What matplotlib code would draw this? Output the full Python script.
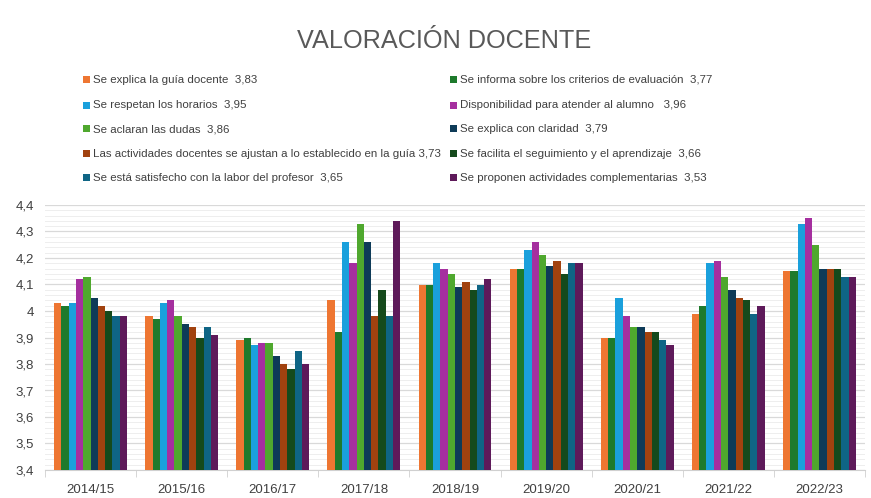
import matplotlib
matplotlib.use("Agg")
import matplotlib.pyplot as plt
import numpy as np
from matplotlib.patches import Rectangle
from matplotlib.ticker import MultipleLocator, FuncFormatter

categories = ["2014/15", "2015/16", "2016/17", "2017/18", "2018/19",
              "2019/20", "2020/21", "2021/22", "2022/23"]

series_labels = [
    "Se explica la guía docente  3,83",
    "Se informa sobre los criterios de evaluación  3,77",
    "Se respetan los horarios  3,95",
    "Disponibilidad para atender al alumno   3,96",
    "Se aclaran las dudas  3,86",
    "Se explica con claridad  3,79",
    "Las actividades docentes se ajustan a lo establecido en la guía 3,73",
    "Se facilita el seguimiento y el aprendizaje  3,66",
    "Se está satisfecho con la labor del profesor  3,65",
    "Se proponen actividades complementarias  3,53",
]

guia = [4.03, 3.98, 3.89, 4.04, 4.10, 4.16, 3.90, 3.99, 4.15]
criterios = [4.02, 3.97, 3.90, 3.92, 4.10, 4.16, 3.90, 4.02, 4.15]
horarios = [4.03, 4.03, 3.87, 4.26, 4.18, 4.23, 4.05, 4.18, 4.33]
disponibilidad = [4.12, 4.04, 3.88, 4.18, 4.16, 4.26, 3.98, 4.19, 4.35]
dudas = [4.13, 3.98, 3.88, 4.33, 4.14, 4.21, 3.94, 4.13, 4.25]
claridad = [4.05, 3.95, 3.83, 4.26, 4.09, 4.17, 3.94, 4.08, 4.16]
actividades = [4.02, 3.94, 3.80, 3.98, 4.11, 4.19, 3.92, 4.05, 4.16]
seguimiento = [4.00, 3.90, 3.78, 4.08, 4.08, 4.14, 3.92, 4.04, 4.16]
satisfecho = [3.98, 3.94, 3.85, 3.98, 4.10, 4.18, 3.89, 3.99, 4.13]
complementarias = [3.98, 3.91, 3.80, 4.34, 4.12, 4.18, 3.87, 4.02, 4.13]

series_values = [guia, criterios, horarios, disponibilidad, dudas,
                 claridad, actividades, seguimiento, satisfecho, complementarias]

colors = ["#EE7632", "#1E7A2C", "#1AA0DC", "#A52F9F", "#4FA82E",
          "#0E3B58", "#A1420F", "#154A1C", "#0F6585", "#5E1A5A"]

W, H = 871, 498
fig = plt.figure(figsize=(W / 100, H / 100), dpi=100)
fig.patch.set_facecolor("white")

ax = fig.add_axes([45 / W, 1 - 470 / H, (865 - 45) / W, (470 - 205) / H])

n = len(series_values)
x = np.arange(len(categories))
group_w = 0.80
bw = group_w / n
for i, (vals, c) in enumerate(zip(series_values, colors)):
    ax.bar(x - group_w / 2 + bw * (i + 0.5), vals, width=bw, color=c,
           bottom=0, zorder=3, linewidth=0)

ax.set_ylim(3.4, 4.4)
ax.set_xlim(-0.5, len(categories) - 0.5)
ax.yaxis.set_major_locator(MultipleLocator(0.1))
ax.yaxis.set_minor_locator(MultipleLocator(0.02))


def fmt(v, pos):
    s = f"{v:.1f}"
    if s.endswith(".0"):
        s = s[:-2]
    return s.replace(".", ",")


ax.yaxis.set_major_formatter(FuncFormatter(fmt))
ax.grid(axis="y", which="major", color="#D9D9D9", linewidth=0.9, zorder=0)
ax.grid(axis="y", which="minor", color="#EEEEEE", linewidth=0.7, zorder=0)
ax.set_axisbelow(True)

for s in ["top", "right", "left"]:
    ax.spines[s].set_visible(False)
ax.spines["bottom"].set_color("#D0D0D0")

ax.set_xticks(x)
ax.set_xticklabels(categories)
ax.set_xticks(np.arange(-0.5, len(categories), 1.0), minor=True)
ax.tick_params(axis="x", which="major", length=0, pad=10, labelsize=9.5,
               labelcolor="#404040")
ax.tick_params(axis="x", which="minor", length=5, color="#D0D0D0")
ax.tick_params(axis="y", which="both", length=0, labelsize=9.5,
               labelcolor="#404040", pad=8)
for lab in ax.get_xticklabels() + ax.get_yticklabels():
    lab.set_fontfamily("Liberation Sans")

fig.text(444 / W, 1 - 41 / H, "VALORACIÓN DOCENTE", ha="center", va="center",
         fontsize=18.2, color="#595959", family="Liberation Sans")

row_y = [80, 105, 129, 154, 178]
col_x = [83, 450]
for i, (lab, c) in enumerate(zip(series_labels, colors)):
    col = i % 2
    row = i // 2
    xx = col_x[col]
    yy = row_y[row]
    fig.patches.append(Rectangle((xx / W, 1 - (yy + 3.5) / H), 7 / W, 7 / H,
                                 transform=fig.transFigure, facecolor=c,
                                 edgecolor="none"))
    fig.text((xx + 10) / W, 1 - yy / H, lab, ha="left", va="center",
             fontsize=8.25, color="#404040", family="Liberation Sans")

fig.savefig("out.png", dpi=100)
